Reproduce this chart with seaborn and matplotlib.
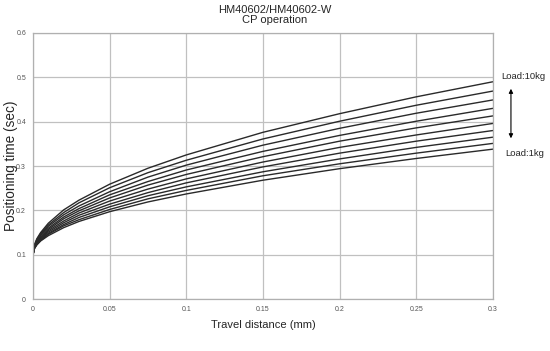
import matplotlib
matplotlib.use("Agg")
import matplotlib.pyplot as plt
import seaborn as sns
import pandas as pd

# Travel distance (mm)
distance = [0, 0.001, 0.0025, 0.005, 0.01, 0.02, 0.03, 0.05, 0.075, 0.1, 0.15, 0.2, 0.25, 0.3]

# Positioning time (sec) per load (kg)
load_1 = [0.100, 0.114, 0.122, 0.131, 0.143, 0.161, 0.175, 0.197, 0.219, 0.237, 0.268, 0.294, 0.317, 0.338]
load_2 = [0.100, 0.115, 0.123, 0.132, 0.146, 0.165, 0.179, 0.202, 0.226, 0.245, 0.278, 0.305, 0.329, 0.351]
load_3 = [0.100, 0.115, 0.124, 0.134, 0.148, 0.168, 0.184, 0.208, 0.233, 0.253, 0.287, 0.316, 0.342, 0.365]
load_4 = [0.100, 0.116, 0.126, 0.136, 0.151, 0.172, 0.189, 0.214, 0.240, 0.262, 0.298, 0.329, 0.356, 0.380]
load_5 = [0.100, 0.117, 0.127, 0.138, 0.154, 0.176, 0.194, 0.221, 0.248, 0.271, 0.309, 0.342, 0.370, 0.396]
load_6 = [0.100, 0.118, 0.129, 0.140, 0.157, 0.181, 0.199, 0.228, 0.257, 0.281, 0.321, 0.356, 0.386, 0.413]
load_7 = [0.100, 0.119, 0.130, 0.143, 0.160, 0.185, 0.204, 0.235, 0.265, 0.291, 0.333, 0.369, 0.401, 0.430]
load_8 = [0.100, 0.120, 0.132, 0.145, 0.164, 0.190, 0.210, 0.242, 0.275, 0.302, 0.347, 0.385, 0.419, 0.449]
load_9 = [0.100, 0.121, 0.134, 0.148, 0.167, 0.195, 0.217, 0.251, 0.285, 0.313, 0.361, 0.401, 0.437, 0.469]
load_10 = [0.100, 0.123, 0.136, 0.150, 0.171, 0.201, 0.223, 0.259, 0.295, 0.325, 0.376, 0.418, 0.456, 0.490]

loads = [1, 2, 3, 4, 5, 6, 7, 8, 9, 10]
series = [load_1, load_2, load_3, load_4, load_5, load_6, load_7, load_8, load_9, load_10]

x_ticks = [0, 0.05, 0.1, 0.15, 0.2, 0.25, 0.3]
x_tick_labels = ["0", "0.05", "0.1", "0.15", "0.2", "0.25", "0.3"]
y_ticks = [0, 0.1, 0.2, 0.3, 0.4, 0.5, 0.6]
y_tick_labels = ["0", "0.1", "0.2", "0.3", "0.4", "0.5", "0.6"]

rows = []
for ld, vals in zip(loads, series):
    for d, v in zip(distance, vals):
        rows.append({"distance": d, "time": v, "load": ld})
df = pd.DataFrame(rows)

sns.set_style("white")
plt.rcParams["font.family"] = ["Liberation Sans", "DejaVu Sans"]

fig = plt.figure(figsize=(5.5, 3.51), dpi=100)
ax = fig.add_axes([0.06, 0.148, 0.836, 0.758])

sns.lineplot(data=df, x="distance", y="time", hue="load",
             palette=["#2a2a2a"] * len(loads), linewidth=1.0,
             legend=False, ax=ax)

ax.set_xlim(0, 0.3)
ax.set_ylim(0, 0.6)
ax.set_xticks(x_ticks)
ax.set_xticklabels(x_tick_labels)
ax.set_yticks(y_ticks)
ax.set_yticklabels(y_tick_labels)
ax.tick_params(axis="both", length=0, labelsize=5, colors="#555555", pad=5)
ax.grid(True, color="#c0c0c0", linewidth=0.9)
for s in ax.spines.values():
    s.set_color("#b0b0b0")
    s.set_linewidth(0.9)

ax.set_xlabel("Travel distance (mm)", fontsize=8, labelpad=5)
ax.set_ylabel("Positioning time (sec)", fontsize=9.8)
ax.yaxis.set_label_coords(-0.033, 0.5)

fig.text(0.5, 0.985, "HM40602/HM40602-W\nCP operation", fontsize=8,
         ha="center", va="top", linespacing=1.0)

fig.text(0.912, 0.781, "Load:10kg", fontsize=6.8, va="center", ha="left")
fig.text(0.918, 0.564, "Load:1kg", fontsize=6.8, va="center", ha="left")
ax.annotate("", xy=(0.929, 0.755), xycoords="figure fraction",
            xytext=(0.929, 0.598), textcoords="figure fraction",
            arrowprops=dict(arrowstyle="<|-|>", color="black", lw=0.8,
                            mutation_scale=6))

fig.savefig("out.png", dpi=100)
